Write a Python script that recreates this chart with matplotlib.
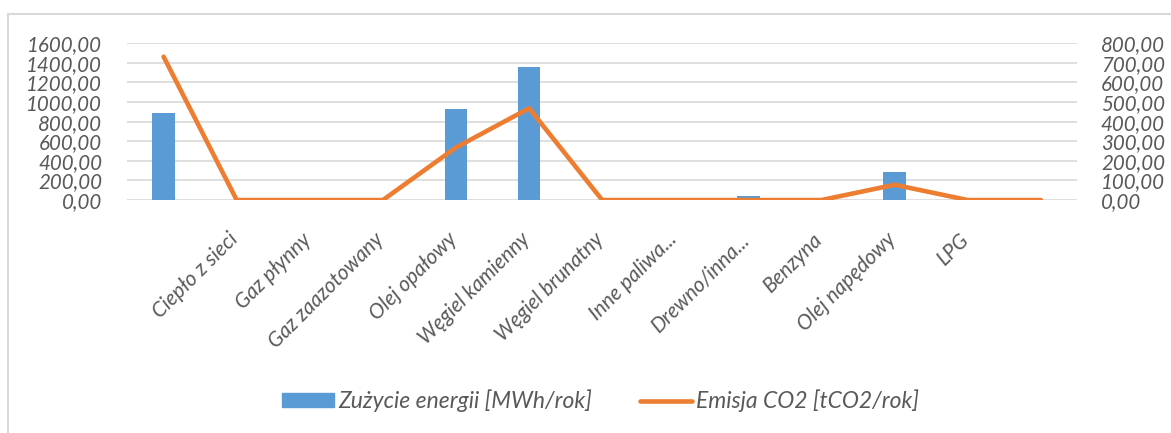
import matplotlib
matplotlib.use('Agg')
import matplotlib.pyplot as plt
import matplotlib.transforms as mtransforms
from matplotlib.lines import Line2D
from matplotlib.patches import Patch

# categories (first and last have no label on the axis)
categories = ['', 'Ciepło z sieci', 'Gaz płynny', 'Gaz zaazotowany', 'Olej opałowy',
              'Węgiel kamienny', 'Węgiel brunatny', 'Inne paliwa...', 'Drewno/inna...',
              'Benzyna', 'Olej napędowy', 'LPG', '']
energy = [890, 0, 0, 0, 929, 1360, 0, 0, 40, 0, 285, 0, 0]      # MWh/rok
emission = [731, 0, 0, 0, 268, 468, 0, 0, 0, 0, 78, 0, 0]        # tCO2/rok
left_ticks = [0, 200, 400, 600, 800, 1000, 1200, 1400, 1600]
right_ticks = [0, 100, 200, 300, 400, 500, 600, 700, 800]

blue = '#5B9BD5'
orange = '#ED7D31'
grey_txt = '#595959'
grid_c = '#d9d9d9'

plt.rcParams['font.family'] = ['Lato', 'DejaVu Sans']
plt.rcParams['font.style'] = 'italic'

fig = plt.figure(figsize=(11.71, 4.33), dpi=100)
ax = fig.add_axes([0.1085, 0.538, 0.8115, 0.3623])
ax2 = ax.twinx()

x = list(range(len(categories)))
ax.bar(x, energy, width=0.31, color=blue, zorder=2)
ax2.plot(x, emission, color=orange, lw=3.3, solid_capstyle='round',
         solid_joinstyle='round', zorder=3)

ax.set_xlim(-0.5, len(categories) - 0.5)
ax.set_ylim(0, 1600)
ax2.set_ylim(0, 800)

ax.set_yticks(left_ticks)
ax.set_yticklabels([f'{v:.2f}'.replace('.', ',') for v in left_ticks])
ax2.set_yticks(right_ticks)
ax2.set_yticklabels([f'{v:.2f}'.replace('.', ',') for v in right_ticks])

ax.set_xticks(x)
ax.set_xticklabels(categories, rotation=45, ha='right', va='top',
                   rotation_mode='anchor')

for a in (ax, ax2):
    for s in a.spines.values():
        s.set_visible(False)
    a.tick_params(length=0, colors=grey_txt, labelsize=14.8)
ax.tick_params(axis='y', pad=18)
ax2.tick_params(axis='y', pad=17)
ax.tick_params(axis='x', pad=21, labelsize=15)

# nudge category labels a little to the left
shift = mtransforms.ScaledTranslation(-0.09, 0, fig.dpi_scale_trans)
for lbl in ax.get_xticklabels():
    lbl.set_transform(lbl.get_transform() + shift)

ax.grid(axis='y', color=grid_c, lw=1.2, zorder=0)
ax.set_axisbelow(True)

# outer frame (left and top edge)
fig.add_artist(Line2D([8 / 1171, 8 / 1171], [0, 1 - 14 / 433], color=grid_c, lw=1.5))
fig.add_artist(Line2D([8 / 1171, 1], [1 - 14 / 433, 1 - 14 / 433], color=grid_c, lw=1.5))

handles = [Patch(color=blue), Line2D([], [], color=orange, lw=3.3, solid_capstyle='round')]
fig.legend(handles, ['Zużycie energii [MWh/rok]', 'Emisja CO2 [tCO2/rok]'],
           loc='center', bbox_to_anchor=(0.513, 0.074), ncol=2, frameon=False,
           fontsize=16.5, labelcolor=grey_txt, handlelength=2.27, handleheight=0.57,
           columnspacing=2.05, handletextpad=0.2)

fig.savefig('out.png', dpi=100)
